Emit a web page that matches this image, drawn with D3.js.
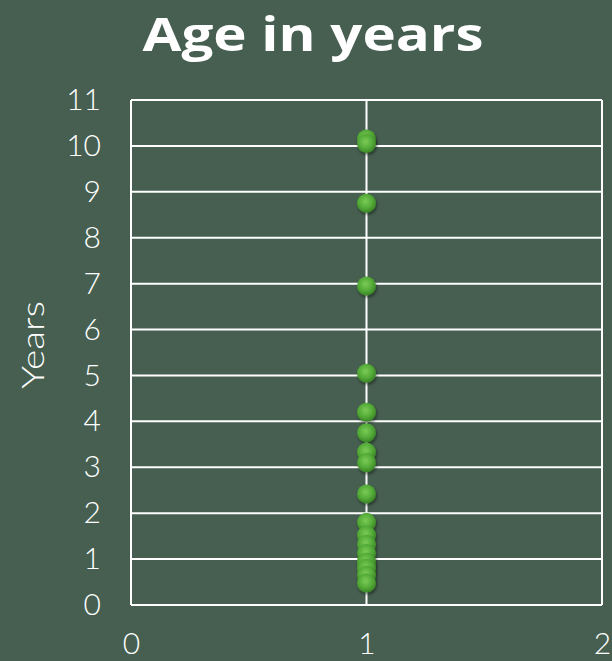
<!DOCTYPE html>
<html><head><meta charset="utf-8">
<script src="https://cdn.jsdelivr.net/npm/d3@7"></script>
<style>
html,body{margin:0;padding:0;background:#465f51;}
svg{display:block;}
</style></head>
<body>
<script>
const title = "Age in years";
const yLabel = "Years";
const xValues = [1,1,1,1,1,1,1,1,1,1,1,1,1,1,1,1,1,1];
const yValues = [10.15,10.05,8.75,6.95,5.05,4.2,3.75,3.33,3.1,2.42,1.8,1.52,1.32,1.12,0.93,0.8,0.65,0.48];
const yTicks = [0,1,2,3,4,5,6,7,8,9,10,11];
const xTicks = [0,1,2];

const W = 612, H = 661;
const svg = d3.select("body").append("svg").attr("width", W).attr("height", H);
svg.append("rect").attr("width", W).attr("height", H).attr("fill", "#465f51");

const defs = svg.append("defs");
const g1 = defs.append("radialGradient").attr("id","ball").attr("cx","45%").attr("cy","40%").attr("r","60%");
g1.append("stop").attr("offset","0%").attr("stop-color","#7acb56");
g1.append("stop").attr("offset","60%").attr("stop-color","#54ab38");
g1.append("stop").attr("offset","100%").attr("stop-color","#3a8426");
const f = defs.append("filter").attr("id","sh").attr("x","-50%").attr("y","-50%").attr("width","200%").attr("height","200%");
f.append("feDropShadow").attr("dx",1).attr("dy",2).attr("stdDeviation",1.5).attr("flood-color","#000").attr("flood-opacity",0.45);

const x = d3.scaleLinear().domain([0,2]).range([131,602]);
const y = d3.scaleLinear().domain([0,11]).range([605,100]);

svg.append("g").selectAll("line").data(yTicks).join("line")
  .attr("x1", x(0)).attr("x2", x(2)).attr("y1", d=>y(d)).attr("y2", d=>y(d))
  .attr("stroke","#fff").attr("stroke-width",2);
svg.append("g").selectAll("line").data(xTicks).join("line")
  .attr("x1", d=>x(d)).attr("x2", d=>x(d)).attr("y1", y(0)).attr("y2", y(11))
  .attr("stroke","#fff").attr("stroke-width",2);

const yAxis = d3.axisLeft(y).tickValues(yTicks).tickSize(0).tickPadding(30).tickFormat(d3.format("d"));
const ya = svg.append("g").attr("transform",`translate(${x(0)},0)`).call(yAxis);
ya.select(".domain").remove();
ya.selectAll("text").attr("fill","#fff").style("font-family","Lato").style("font-weight","300").style("font-size","30px");

const xAxis = d3.axisBottom(x).tickValues(xTicks).tickSize(0).tickPadding(28).tickFormat(d3.format("d"));
const xa = svg.append("g").attr("transform",`translate(0,${y(0)})`).call(xAxis);
xa.select(".domain").remove();
xa.selectAll("text").attr("fill","#fff").style("font-family","Lato").style("font-weight","300").style("font-size","30px");

svg.append("g").selectAll("circle").data(yValues).join("circle")
  .attr("cx", (d,i)=>x(xValues[i])).attr("cy", d=>y(d)).attr("r", 9.5)
  .attr("fill","url(#ball)").attr("filter","url(#sh)");

svg.append("text").attr("x", 313).attr("y", 51).attr("text-anchor","middle")
  .attr("fill","#fff").style("font-family","Open Sans").style("font-weight","700").style("font-size","46px")
  .attr("textLength", 341).attr("lengthAdjust","spacingAndGlyphs")
  .text(title);

svg.append("text").attr("transform","translate(44,345) rotate(-90)").attr("text-anchor","middle")
  .attr("fill","#fff").style("font-family","Lato").style("font-weight","300").style("font-size","31px")
  .attr("textLength", 88).attr("lengthAdjust","spacingAndGlyphs")
  .text(yLabel);
</script>
</body></html>
